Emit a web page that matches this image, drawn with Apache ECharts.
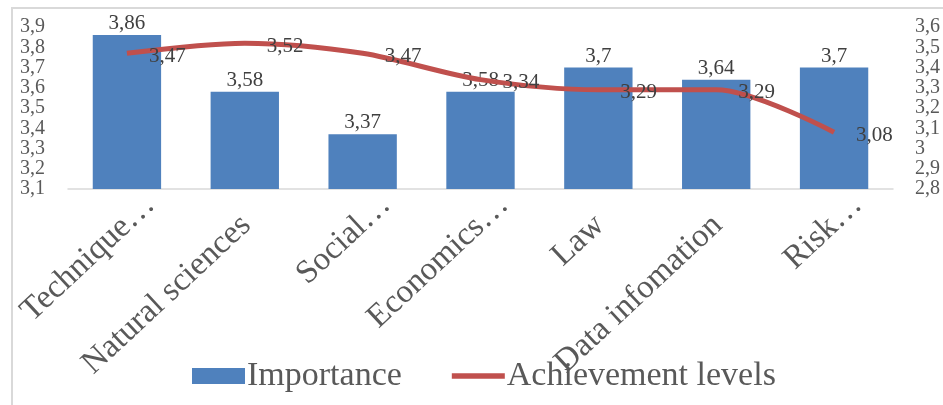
<!DOCTYPE html>
<html>
<head>
<meta charset="utf-8">
<script src="https://cdn.jsdelivr.net/npm/echarts@6/dist/echarts.min.js"></script>
<style>
html,body{margin:0;padding:0;background:#fff;}
#c{width:943px;height:405px;}
</style>
</head>
<body>
<div id="c"></div>
<script>
const categories = ['Technique…','Natural sciences','Social…','Economics…','Law','Data infomation','Risk…'];
const truncated = [true, false, true, true, false, false, true];
const importance = [3.86, 3.58, 3.37, 3.58, 3.7, 3.64, 3.7];
const achievement = [3.47, 3.52, 3.47, 3.34, 3.29, 3.29, 3.08];
const leftTicks = [3.1, 3.2, 3.3, 3.4, 3.5, 3.6, 3.7, 3.8, 3.9];
const rightTicks = [2.8, 2.9, 3.0, 3.1, 3.2, 3.3, 3.4, 3.5, 3.6];

const FONT = '"Liberation Serif", "Times New Roman", serif';
const fmt = v => String(Math.round(v * 100) / 100).replace('.', ',');

const chart = echarts.init(document.getElementById('c'), null, {renderer: 'canvas'});
chart.setOption({
  backgroundColor: '#fff',
  animation: false,
  graphic: [{
    type: 'rect',
    shape: {x: 12, y: 8, width: 945, height: 410},
    style: {fill: 'none', stroke: '#d9d9d9', lineWidth: 2},
    silent: true, z: -1
  }],
  grid: {left: 68, right: 47, top: 27, bottom: 216, containLabel: false},
  legend: {
    left: 187, top: 354,
    itemWidth: 53, itemHeight: 16, itemGap: 50,
    textStyle: {fontFamily: FONT, fontSize: 34, color: '#595959', padding: [0, 0, 0, -3]},
    data: [
      {name: 'Importance', icon: 'rect'},
      {name: 'Achievement levels', icon: 'path://M0,0H60V6H0Z'}
    ]
  },
  xAxis: {
    type: 'category',
    data: categories,
    axisLine: {show: true, lineStyle: {color: '#d9d9d9', width: 1.5}},
    axisTick: {show: false},
    axisLabel: {
      interval: 0, rotate: 43, margin: 33,
      fontFamily: FONT, fontSize: 33, color: '#595959',
      padding: [0, -32, 0, 0],
      formatter: (v, i) => truncated[i] ? v : v + '{sp|}',
      rich: {sp: {width: 30}}
    }
  },
  yAxis: [{
    type: 'value', min: leftTicks[0], max: leftTicks[leftTicks.length - 1], interval: 0.1,
    axisLine: {show: false}, axisTick: {show: false}, splitLine: {show: false},
    axisLabel: {fontFamily: FONT, fontSize: 20, color: '#595959', margin: 23, formatter: fmt}
  }, {
    type: 'value', min: rightTicks[0], max: rightTicks[rightTicks.length - 1], interval: 0.1,
    axisLine: {show: false}, axisTick: {show: false}, splitLine: {show: false},
    axisLabel: {fontFamily: FONT, fontSize: 20, color: '#595959', margin: 22, formatter: fmt}
  }],
  series: [{
    name: 'Importance', type: 'bar', yAxisIndex: 0,
    data: importance, barWidth: '58%',
    itemStyle: {color: '#4f81bd'},
    label: {show: true, position: 'top', distance: 1, fontFamily: FONT, fontSize: 21, color: '#404040',
      formatter: p => fmt(p.value)}
  }, {
    name: 'Achievement levels', type: 'line', yAxisIndex: 1,
    data: achievement, smooth: 0.3,
    symbol: 'circle', symbolSize: 0,
    lineStyle: {color: '#c0504d', width: 5},
    itemStyle: {color: '#c0504d'},
    label: {show: true, position: 'right', distance: 22, offset: [0, 3], fontFamily: FONT, fontSize: 21, color: '#404040',
      formatter: p => fmt(p.value)},
    z: 3
  }]
});
</script>
</body>
</html>
